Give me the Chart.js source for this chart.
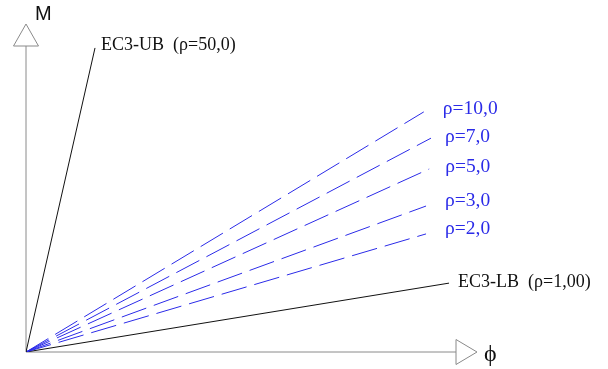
<!DOCTYPE html>
<html>
<head>
<meta charset="utf-8">
<script src="https://cdn.jsdelivr.net/npm/chart.js@4/dist/chart.umd.min.js"></script>
<style>
  html, body { margin: 0; padding: 0; background: #fff; }
  #wrap { width: 608px; height: 369px; }
</style>
</head>
<body>
<div id="wrap"><canvas id="myChart" width="608" height="369"></canvas></div>
<script>
// line names and the end point of each straight line from the origin
const seriesNames = ["EC3-UB  (ρ=50,0)", "ρ=10,0", "ρ=7,0", "ρ=5,0", "ρ=3,0", "ρ=2,0", "EC3-LB  (ρ=1,00)"];
const phiEnd = [1.53, 8.82, 8.98, 8.94, 8.87, 8.87, 9.38];
const mEnd = [9.27, 7.32, 6.52, 5.58, 4.45, 3.60, 2.10];
const axisTitles = ["ϕ", "M"];

const blue = "#2b2be8";
const lineStyles = [
  { color: "#111", dash: [], font: "18px 'Liberation Serif'", textColor: "#111", dx: 6, dy: -3 },
  { color: blue, dash: [26, 8], font: "19.5px 'Liberation Serif'", textColor: blue, dx: 19, dy: -3 },
  { color: blue, dash: [26, 8], font: "19.5px 'Liberation Serif'", textColor: blue, dx: 14, dy: -1 },
  { color: blue, dash: [26, 8], font: "19.5px 'Liberation Serif'", textColor: blue, dx: 16, dy: -2 },
  { color: blue, dash: [26, 8], font: "19.5px 'Liberation Serif'", textColor: blue, dx: 19, dy: -5 },
  { color: blue, dash: [26, 8], font: "19.5px 'Liberation Serif'", textColor: blue, dx: 19, dy: -5 },
  { color: "#111", dash: [], font: "18px 'Liberation Serif'", textColor: "#111", dx: 9, dy: -1 },
];

const datasets = seriesNames.map((name, i) => ({
  label: name,
  data: [{ x: 0, y: 0 }, { x: phiEnd[i], y: mEnd[i] }],
  showLine: true,
  borderColor: lineStyles[i].color,
  borderDash: lineStyles[i].dash,
  borderWidth: 1,
  pointRadius: 0,
  fill: false,
}));

// axes with open triangle arrow heads, plus the line labels
const sketchAxes = {
  id: "sketchAxes",
  beforeDatasetsDraw(chart) {
    const { ctx, chartArea } = chart;
    const x0 = chartArea.left, y0 = chartArea.bottom;
    ctx.save();
    ctx.strokeStyle = "#8a8a8a";
    ctx.lineWidth = 1;
    ctx.beginPath();
    ctx.moveTo(x0, y0); ctx.lineTo(chartArea.right - 21, y0);
    ctx.moveTo(x0, y0); ctx.lineTo(x0, chartArea.top + 22);
    ctx.stroke();
    // x arrow
    ctx.beginPath();
    ctx.moveTo(chartArea.right - 21, y0 - 12.5);
    ctx.lineTo(chartArea.right, y0);
    ctx.lineTo(chartArea.right - 21, y0 + 12.5);
    ctx.closePath();
    ctx.stroke();
    // y arrow
    ctx.beginPath();
    ctx.moveTo(x0 - 12.5, chartArea.top + 22);
    ctx.lineTo(x0, chartArea.top);
    ctx.lineTo(x0 + 12.5, chartArea.top + 22);
    ctx.closePath();
    ctx.stroke();
    ctx.restore();
  },
  afterDatasetsDraw(chart) {
    const { ctx, chartArea, scales } = chart;
    ctx.save();
    ctx.textBaseline = "middle";
    ctx.textAlign = "left";
    seriesNames.forEach((name, i) => {
      const s = lineStyles[i];
      const px = scales.x.getPixelForValue(phiEnd[i]);
      const py = scales.y.getPixelForValue(mEnd[i]);
      ctx.font = s.font;
      ctx.fillStyle = s.textColor;
      ctx.fillText(name, px + s.dx, py + s.dy);
    });
    ctx.fillStyle = "#111";
    ctx.font = "24px 'Liberation Serif'";
    ctx.fillText(axisTitles[0], chartArea.right + 7, chartArea.bottom + 3);
    ctx.font = "20px 'Liberation Sans'";
    ctx.fillText(axisTitles[1], chartArea.left + 9, chartArea.top - 10);
    ctx.restore();
  },
};

new Chart(document.getElementById("myChart"), {
  type: "scatter",
  data: { datasets },
  options: {
    responsive: false,
    animation: false,
    layout: { padding: { left: 26, top: 24, right: 131, bottom: 17 } },
    plugins: { legend: { display: false }, tooltip: { enabled: false } },
    scales: {
      x: { type: "linear", min: 0, max: 10, display: false },
      y: { type: "linear", min: 0, max: 10, display: false },
    },
  },
  plugins: [sketchAxes],
});
</script>
</body>
</html>
